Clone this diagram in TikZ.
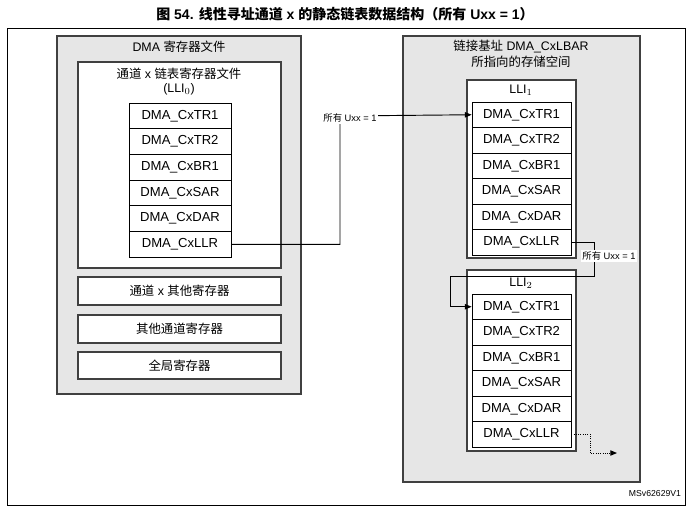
\documentclass[tikz,border=0pt]{standalone}
\usepackage{fontspec}
\setmainfont{Liberation Sans}
\newfontfamily\cjk{Noto Sans CJK SC}
\usetikzlibrary{arrows.meta}
\definecolor{gbox}{RGB}{230,230,230}
\begin{document}
\begin{tikzpicture}[x=0.75pt,y=-0.75pt,
  gray/.style={draw=black!75,fill=gbox,line width=0.8pt},
  wbox/.style={draw=black!75,fill=white,line width=0.8pt},
  reg/.style={draw=black,fill=white,line width=0.6pt,minimum height=25.6*0.75pt,inner sep=0pt,font=\fontsize{9.8}{11}\selectfont},
  lbl/.style={font=\fontsize{9.3}{11}\selectfont,inner sep=1pt},
  tiny/.style={font=\fontsize{7}{8}\selectfont,fill=white,inner sep=1pt},
  con/.style={line width=0.7pt}]
\useasboundingbox (0,0) rectangle (691,511);
\node[font=\fontsize{10.5}{12}\selectfont\bfseries] (title) at (345,14) {{\cjk 图} 54. {\cjk 线性寻址通道} x {\cjk 的静态链表数据结构（所有} Uxx = 1{\cjk ）}};
\draw[line width=0.6pt] (7,28) rectangle (685,505);
% left
\draw[gray] (57,36) rectangle (301,394);
\node[lbl] (lt) at (179,47) {DMA {\cjk 寄存器文件}};
\draw[wbox] (78,62) rectangle (281,268);
\node[lbl] (lt2) at (179,74) {{\cjk 通道} x {\cjk 链表寄存器文件}};
\node[lbl] (lt3) at (179,89) {(LLI$_0$)};
\foreach \n/\t [count=\i] in {a1/DMA\_CxTR1,a2/DMA\_CxTR2,a3/DMA\_CxBR1,a4/DMA\_CxSAR,a5/DMA\_CxDAR,a6/DMA\_CxLLR}
  \node[reg,minimum width=102*0.75pt] (\n) at (180,{103+25.7*(\i-0.5)}) {\t};
\node[wbox,draw,minimum width=203*0.75pt,minimum height=28*0.75pt,inner sep=0pt,lbl] (o1) at (179.5,291) {{\cjk 通道} x {\cjk 其他寄存器}};
\node[wbox,draw,minimum width=203*0.75pt,minimum height=28*0.75pt,inner sep=0pt,lbl] (o2) at (179.5,329) {{\cjk 其他通道寄存器}};
\node[wbox,draw,minimum width=203*0.75pt,minimum height=27*0.75pt,inner sep=0pt,lbl] (o3) at (179.5,365.5) {{\cjk 全局寄存器}};
% right
\draw[gray] (403,36) rectangle (640,482);
\node[lbl] (rt) at (521,47) {{\cjk 链接基址} DMA\_CxLBAR};
\node[lbl] (rt2) at (521,62) {{\cjk 所指向的存储空间}};
\draw[wbox] (467,80) rectangle (576,258);
\node[lbl] (l1) at (521,90) {LLI$_1$};
\foreach \n/\t [count=\i] in {b1/DMA\_CxTR1,b2/DMA\_CxTR2,b3/DMA\_CxBR1,b4/DMA\_CxSAR,b5/DMA\_CxDAR,b6/DMA\_CxLLR}
  \node[reg,minimum width=99*0.75pt] (\n) at (521.5,{102+25.5*(\i-0.5)}) {\t};
\draw[wbox] (467,270) rectangle (576,451);
\node[lbl] (l2) at (521,283) {LLI$_2$};
\foreach \n/\t [count=\i] in {c1/DMA\_CxTR1,c2/DMA\_CxTR2,c3/DMA\_CxBR1,c4/DMA\_CxSAR,c5/DMA\_CxDAR,c6/DMA\_CxLLR}
  \node[reg,minimum width=99*0.75pt] (\n) at (521.5,{294+25.5*(\i-0.5)}) {\t};
% connectors
\coordinate (p1) at (340,116);
\draw[con,-{Triangle[length=5pt,width=4pt]}] (a6.east) -| (p1) -- (b1.west);
\node[tiny] (u1) at (350,118) {{\cjk 所有} Uxx = 1};
\coordinate (p2) at (594,276);
\coordinate (p3) at (450,276);
\draw[con,-{Triangle[length=5pt,width=4pt]}] (b6.east) -| (p2) -- (p3) |- (c1.west);
\node[tiny] (u2) at (609,256) {{\cjk 所有} Uxx = 1};
\coordinate (p4) at (590,453);
\coordinate (p5) at (617,453);
\draw[con,densely dotted,-{Triangle[length=5pt,width=4pt]}] (c6.east) -| (p4) -- (p5);
\node[font=\fontsize{6.5}{7}\selectfont] (ms) at (655,494) {MSv62629V1};
\end{tikzpicture}
\end{document}
